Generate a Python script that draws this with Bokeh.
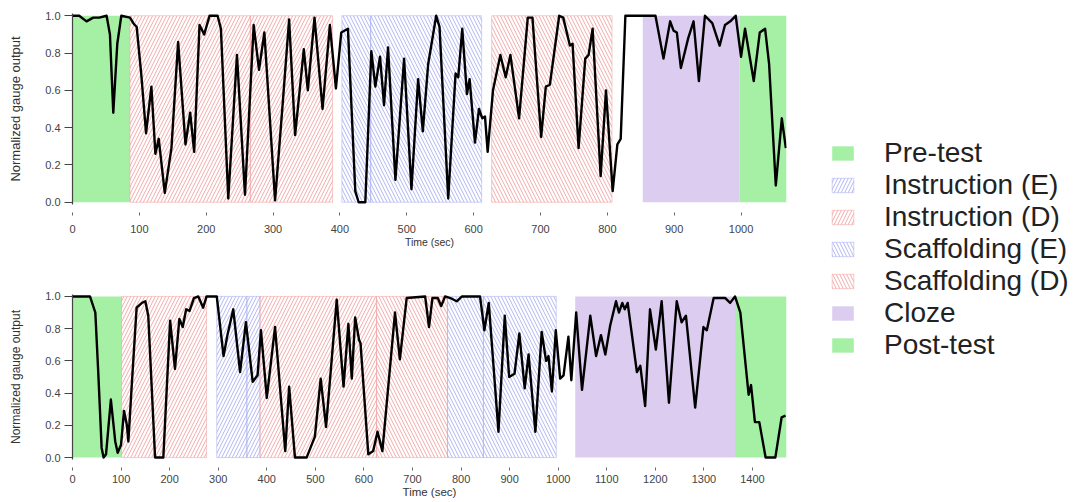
from bokeh.plotting import figure
from bokeh.layouts import row, column
from bokeh.models import Range1d, FixedTicker, PrintfTickFormatter, Legend, LegendItem
from bokeh.embed import file_html
from bokeh.resources import INLINE

FONT = "Liberation Sans"

# ---------------- data ----------------
phases = ["Pre-test", "Instruction (E)", "Instruction (D)", "Scaffolding (E)",
          "Scaffolding (D)", "Cloze", "Post-test"]

# session 1 (top)
top_seg_start = [0, 86, 266, 403, 446, 627, 853, 998]
top_seg_end = [86, 266, 389, 446, 612, 807, 998, 1068]
top_seg_phase = ["Pre-test", "Instruction (D)", "Instruction (D)", "Scaffolding (E)",
                 "Scaffolding (E)", "Scaffolding (D)", "Cloze", "Post-test"]
top_time = [0, 10, 21, 31, 40, 51, 56, 61, 67, 73, 86, 91, 96, 103, 110, 118, 124, 129,
            138, 148, 158, 169, 176, 182, 190, 197, 205, 217, 222, 233, 246, 258, 271,
            279, 287, 303, 314, 324, 333, 346, 352, 362, 374, 385, 394, 402, 412, 423,
            428, 438, 447, 453, 460, 466, 472, 483, 496, 507, 517, 524, 532, 544, 549,
            562, 573, 577, 583, 590, 594, 602, 608, 613, 617, 621, 629, 640, 648, 655,
            668, 681, 688, 701, 708, 714, 728, 734, 744, 748, 757, 767, 772, 778, 790,
            798, 808, 815, 820, 827, 872, 884, 894, 899, 904, 910, 921, 929, 937, 946,
            957, 968, 976, 984, 992, 1000, 1006, 1019, 1028, 1036, 1042, 1052, 1061, 1067]
top_value = [1.0, 1.0, 0.97, 0.99, 0.99, 1.0, 0.9, 0.48, 0.85, 1.0, 0.99, 0.96, 0.94, 0.68,
             0.37, 0.62, 0.26, 0.34, 0.05, 0.29, 0.86, 0.31, 0.48, 0.27, 0.95, 0.90, 1.0,
             1.0, 0.93, 0.02, 0.79, 0.04, 0.95, 0.71, 0.91, 0.01, 0.51, 0.98, 0.36, 0.82,
             0.60, 0.99, 0.50, 0.95, 0.61, 0.91, 0.93, 0.06, 0.0, 0.0, 0.81, 0.62, 0.78,
             0.52, 0.83, 0.12, 0.77, 0.07, 0.66, 0.38, 0.74, 1.0, 0.94, 0.02, 0.69, 0.67,
             0.93, 0.58, 0.66, 0.32, 0.50, 0.45, 0.46, 0.27, 0.60, 0.79, 0.67, 0.79, 0.45,
             0.99, 0.99, 0.35, 0.62, 0.63, 1.0, 0.99, 0.84, 0.85, 0.29, 0.77, 0.79, 0.93,
             0.14, 0.60, 0.06, 0.31, 0.34, 1.0, 1.0, 0.77, 0.97, 0.92, 0.91, 0.72, 0.88,
             0.97, 0.65, 1.0, 0.96, 0.84, 0.95, 0.97, 1.0, 0.78, 0.93, 0.65, 0.91, 0.93,
             0.74, 0.09, 0.45, 0.29]
top_xticks = [0, 100, 200, 300, 400, 500, 600, 700, 800, 900, 1000]

# session 2 (bottom)
bot_seg_start = [0, 101, 297, 359, 386, 626, 772, 846, 1035, 1364]
bot_seg_end = [101, 276, 359, 386, 626, 772, 846, 996, 1364, 1470]
bot_seg_phase = ["Pre-test", "Instruction (D)", "Instruction (E)", "Instruction (E)",
                 "Instruction (D)", "Scaffolding (D)", "Scaffolding (E)", "Scaffolding (E)",
                 "Cloze", "Post-test"]
bot_time = [0, 36, 47, 53, 60, 64, 69, 79, 88, 93, 100, 106, 112, 115, 122, 132, 143, 150,
            156, 170, 187, 201, 211, 220, 227, 234, 241, 250, 259, 269, 276, 297, 311, 319,
            331, 345, 357, 371, 381, 388, 400, 417, 438, 446, 458, 482, 499, 511, 522, 544,
            558, 568, 575, 582, 590, 593, 609, 619, 628, 638, 664, 674, 688, 726, 734, 741,
            752, 759, 767, 778, 791, 802, 839, 848, 857, 877, 890, 899, 910, 920, 931, 939,
            953, 966, 975, 980, 987, 995, 1004, 1011, 1021, 1027, 1037, 1049, 1066, 1078,
            1088, 1097, 1107, 1119, 1125, 1132, 1137, 1143, 1162, 1169, 1179, 1189, 1201,
            1213, 1228, 1244, 1254, 1263, 1282, 1299, 1306, 1320, 1344, 1354, 1364, 1375,
            1392, 1397, 1405, 1414, 1427, 1447, 1460, 1468]
bot_value = [1.0, 1.0, 0.90, 0.53, 0.06, 0.0, 0.02, 0.36, 0.10, 0.03, 0.08, 0.29, 0.20, 0.10,
             0.45, 0.93, 0.96, 0.97, 0.88, 0.0, 0.0, 0.85, 0.55, 0.86, 0.81, 0.92, 0.91, 0.99,
             1.0, 0.93, 1.0, 1.0, 0.63, 0.76, 0.92, 0.53, 0.84, 0.47, 0.51, 0.79, 0.37, 0.81,
             0.04, 0.44, 0.0, 0.0, 0.13, 0.49, 0.19, 0.98, 0.44, 0.83, 0.49, 0.87, 0.73, 0.71,
             0.02, 0.04, 0.16, 0.04, 0.90, 0.61, 0.99, 1.0, 0.81, 0.99, 0.99, 0.94, 1.0, 0.99,
             0.97, 1.0, 1.0, 0.79, 0.96, 0.16, 0.88, 0.50, 0.52, 0.77, 0.43, 0.64, 0.16, 0.78,
             0.60, 0.63, 0.41, 0.79, 0.49, 0.51, 0.75, 0.48, 0.90, 0.42, 0.88, 0.63, 0.76,
             0.64, 0.82, 0.97, 0.90, 0.96, 0.92, 0.96, 0.53, 0.57, 0.32, 0.92, 0.67, 0.97,
             0.34, 0.97, 0.84, 0.88, 0.31, 0.81, 0.79, 0.99, 0.99, 0.96, 1.0, 0.90, 0.39,
             0.45, 0.22, 0.22, 0.0, 0.0, 0.25, 0.26]
bot_xticks = [0, 100, 200, 300, 400, 500, 600, 700, 800, 900, 1000, 1100, 1200, 1300, 1400]

y_ticks = [0.0, 0.2, 0.4, 0.6, 0.8, 1.0]

# ---------------- styles ----------------
GREEN = "#a6f0a6"
PURPLE = "#dccdf0"
RED = "#f09c9c"
BLUE = "#a4aaf0"


def hatched(color, pattern):
    return dict(fill_color=None, hatch_pattern=pattern, hatch_color=color,
                hatch_scale=7, hatch_weight=1, hatch_alpha=0.85,
                line_color=color, line_alpha=0.5, line_width=1)


STYLE = {
    "Pre-test": dict(fill_color=GREEN, line_color=None),
    "Post-test": dict(fill_color=GREEN, line_color=None),
    "Cloze": dict(fill_color=PURPLE, line_color=None),
    "Instruction (E)": hatched(BLUE, "/"),
    "Instruction (D)": hatched(RED, "/"),
    "Scaffolding (E)": hatched(BLUE, "\\"),
    "Scaffolding (D)": hatched(RED, "\\"),
}


def draw_segments(p, seg_start, seg_end, seg_phase, visible=True):
    out = {}
    for ph in phases:
        idx = [i for i, s in enumerate(seg_phase) if s == ph]
        if not idx:
            continue
        r = p.quad(left=[seg_start[i] for i in idx], right=[seg_end[i] for i in idx],
                   bottom=0, top=1, **STYLE[ph])
        r.visible = visible
        out[ph] = r
    return out


def make_panel(times, values, seg_start, seg_end, seg_phase, xmax, xticks,
               width, height, bl, br, bt, bb, standoff, xlab_size, ylab_size):
    p = figure(width=width, height=height, x_range=Range1d(0, xmax),
               y_range=Range1d(-0.012, 1.012), output_backend="svg",
               toolbar_location=None, min_border_left=bl, min_border_right=br,
               min_border_top=bt, min_border_bottom=bb)
    p.outline_line_color = None
    p.grid.visible = False
    p.background_fill_color = "white"
    draw_segments(p, seg_start, seg_end, seg_phase)
    p.line(times, values, line_color="black", line_width=2.4, line_join="round")

    p.xaxis.ticker = FixedTicker(ticks=xticks)
    p.xaxis.axis_line_color = None
    p.xaxis.major_tick_line_color = "#666666"
    p.xaxis.major_tick_in = -8
    p.xaxis.major_tick_out = 11
    p.xaxis.minor_tick_line_color = None
    p.xaxis.major_label_standoff = standoff
    p.xaxis.axis_label = "Time (sec)"
    p.xaxis.axis_label_standoff = 0
    p.xaxis.axis_label_text_font = FONT
    p.xaxis.axis_label_text_font_size = xlab_size
    p.xaxis.axis_label_text_font_style = "normal"
    p.xaxis.axis_label_text_color = "#333333"

    p.yaxis.ticker = FixedTicker(ticks=y_ticks)
    p.yaxis.formatter = PrintfTickFormatter(format="%.1f")
    p.yaxis.axis_line_color = "#444444"
    p.yaxis.axis_line_width = 1.2
    p.yaxis.major_tick_line_color = "#444444"
    p.yaxis.major_tick_in = 0
    p.yaxis.major_tick_out = 8
    p.yaxis.minor_tick_line_color = None
    p.yaxis.major_label_standoff = 4
    p.yaxis.axis_label = "Normalized gauge output"
    p.yaxis.axis_label_standoff = 19
    p.yaxis.axis_label_text_font = FONT
    p.yaxis.axis_label_text_font_size = ylab_size
    p.yaxis.axis_label_text_font_style = "normal"
    p.yaxis.axis_label_text_color = "#333333"

    for ax in (p.xaxis, p.yaxis):
        ax.major_label_text_font = FONT
        ax.major_label_text_font_size = "11px"
        ax.major_label_text_color = "#444444"
    return p


p1 = make_panel(top_time, top_value, top_seg_start, top_seg_end, top_seg_phase,
                1068, top_xticks, 800, 272, 72, 10, 13, 68, 9, "10.5px", "13px")
p2 = make_panel(bot_time, bot_value, bot_seg_start, bot_seg_end, bot_seg_phase,
                1470, bot_xticks, 800, 229, 72, 14, 22, 42, 4, "11.5px", "12px")

# ---------------- legend panel ----------------
pl = figure(width=280, height=501, x_range=Range1d(0, 1), y_range=Range1d(0, 1),
            output_backend="svg", toolbar_location=None, min_border=0)
pl.axis.visible = False
pl.grid.visible = False
pl.outline_line_color = None
leg_r = draw_segments(pl, bot_seg_start, bot_seg_end, bot_seg_phase, visible=False)
items = [LegendItem(label=ph, renderers=[leg_r[ph]]) for ph in phases]
legend = Legend(items=items, location=(29, 140), orientation="vertical",
                glyph_width=27, glyph_height=18, label_height=32, spacing=0,
                label_standoff=28, padding=0, margin=0, click_policy="none",
                border_line_color=None, background_fill_alpha=0,
                label_text_font=FONT, label_text_font_size="28px",
                label_text_color="#222222")
pl.add_layout(legend)

layout = row(column(p1, p2), pl)

open("out.html", "w").write(file_html(layout, INLINE))
